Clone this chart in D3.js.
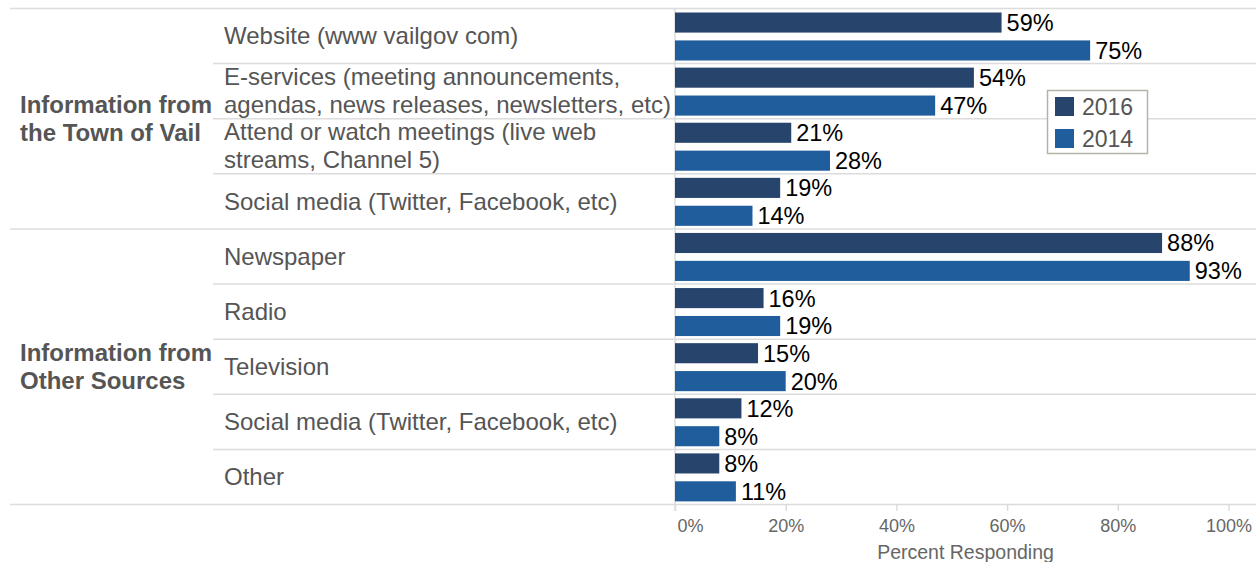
<!DOCTYPE html>
<html>
<head>
<meta charset="utf-8">
<script src="https://cdn.jsdelivr.net/npm/d3@7"></script>
<style>
  html, body { margin: 0; padding: 0; background: #fff; }
  svg { display: block; font-family: "Liberation Sans", Arial, sans-serif; }
</style>
</head>
<body>
<svg id="chart" width="1256" height="562"></svg>
<script>
// Survey: where residents get information about the Town of Vail
const groups = ["Information from\nthe Town of Vail", "Information from\nOther Sources"];
const categories = [
  "Website (www vailgov com)",
  "E-services (meeting announcements,\nagendas, news releases, newsletters, etc)",
  "Attend or watch meetings (live web\nstreams, Channel 5)",
  "Social media (Twitter, Facebook, etc)",
  "Newspaper",
  "Radio",
  "Television",
  "Social media (Twitter, Facebook, etc)",
  "Other"
];
const categoryGroup = [0, 0, 0, 0, 1, 1, 1, 1, 1];
const years = ["2016", "2014"];
const values2016 = [0.59, 0.54, 0.21, 0.19, 0.88, 0.16, 0.15, 0.12, 0.08];
const values2014 = [0.75, 0.47, 0.28, 0.14, 0.93, 0.19, 0.20, 0.08, 0.11];
const ticks = [0, 0.2, 0.4, 0.6, 0.8, 1.0];
const axisTitle = "Percent Responding";

const colors = { "2016": "#27446c", "2014": "#1f5d9d" };
const gridColor = "#dcdcdc";
const labelSize = "24px";

const svg = d3.select("#chart");
const W = 1256;
const plotTop = 8, plotBottom = 504;
const x0 = 675, x1 = 1228.5;
const labelX = 224, groupX = 20, rowLineX = 213, groupLineX = 10;

const x = d3.scaleLinear().domain([0, 1]).range([x0, x1]);
const rows = categories.map((c, i) => i);
const y = d3.scaleBand().domain(rows).range([plotTop, plotBottom]).padding(0);
const ySub = d3.scaleBand().domain(years).range([4.5, 52.5]).paddingInner(0.28).paddingOuter(0);

const series = { "2016": values2016, "2014": values2014 };

// Row separators
const g = svg.append("g");
rows.forEach(i => {
  if (i === 0) return;
  const isGroupStart = categoryGroup[i] !== categoryGroup[i - 1];
  g.append("line")
    .attr("x1", isGroupStart ? groupLineX : rowLineX).attr("x2", W)
    .attr("y1", y(i) + 0.5).attr("y2", y(i) + 0.5)
    .attr("stroke", gridColor).attr("stroke-width", 1.5);
});
// Top and bottom borders
[plotTop, plotBottom].forEach(v => {
  g.append("line")
    .attr("x1", groupLineX).attr("x2", W)
    .attr("y1", v + 0.5).attr("y2", v + 0.5)
    .attr("stroke", gridColor).attr("stroke-width", 1.5);
});

// Bottom axis
const axis = d3.axisBottom(x).tickValues(ticks).tickFormat(d3.format(".0%")).tickSize(7).tickPadding(8);
const axG = svg.append("g").attr("transform", `translate(0,${plotBottom})`).call(axis);
axG.select(".domain").remove();
axG.selectAll(".tick line").attr("stroke", gridColor).attr("stroke-width", 1.5);
axG.selectAll(".tick text")
  .attr("fill", "#666").style("font-size", "18px")
  .style("font-family", "'Liberation Sans', Arial, sans-serif");
axG.selectAll(".tick text").filter(d => d === 0).attr("text-anchor", "start").attr("dx", 2);

// Zero line
svg.append("line")
  .attr("x1", x(0)).attr("x2", x(0))
  .attr("y1", plotTop).attr("y2", plotBottom + 7)
  .attr("stroke", gridColor).attr("stroke-width", 1.5);

svg.append("text")
  .attr("x", (x0 + W) / 2).attr("y", 559)
  .attr("text-anchor", "middle").attr("fill", "#666")
  .style("font-size", "19.5px").text(axisTitle);

// Bars
const barsG = svg.append("g");
years.forEach(yr => {
  barsG.selectAll(null)
    .data(rows)
    .join("rect")
    .attr("x", x(0))
    .attr("y", i => y(i) + ySub(yr))
    .attr("width", i => x(series[yr][i]) - x(0))
    .attr("height", ySub.bandwidth())
    .attr("fill", colors[yr]);
  barsG.selectAll(null)
    .data(rows)
    .join("text")
    .attr("x", i => x(series[yr][i]) + 5)
    .attr("y", i => y(i) + ySub(yr) + ySub.bandwidth() / 2)
    .attr("dy", "0.36em")
    .attr("fill", "#000")
    .style("font-size", "23.5px")
    .text(i => d3.format(".0%")(series[yr][i]));
});

// Category labels
const catG = svg.append("g");
rows.forEach(i => {
  const lines = categories[i].split("\n");
  const lh = 28;
  const cy = y(i) + y.bandwidth() / 2;
  const t = catG.append("text")
    .attr("x", labelX)
    .attr("fill", "#555")
    .style("font-size", labelSize);
  lines.forEach((ln, k) => {
    t.append("tspan")
      .attr("x", labelX)
      .attr("y", cy + (k - (lines.length - 1) / 2) * lh)
      .attr("dy", "0.36em")
      .text(ln);
  });
});

// Group labels
groups.forEach((gName, gi) => {
  const idx = rows.filter(i => categoryGroup[i] === gi);
  const cy = (y(idx[0]) + y(idx[idx.length - 1]) + y.bandwidth()) / 2;
  const lines = gName.split("\n");
  const t = svg.append("text")
    .attr("fill", "#555")
    .style("font-size", labelSize).style("font-weight", "bold");
  lines.forEach((ln, k) => {
    t.append("tspan")
      .attr("x", groupX)
      .attr("y", cy + (k - (lines.length - 1) / 2) * 28)
      .attr("dy", "0.36em")
      .text(ln);
  });
});

// Legend
const lg = svg.append("g").attr("transform", "translate(1047,90)");
lg.append("rect").attr("x", 0.5).attr("y", 0.5).attr("width", 100).attr("height", 63)
  .attr("fill", "#fff").attr("stroke", "#b5b2a6").attr("stroke-width", 1.5);
years.forEach((yr, k) => {
  lg.append("rect").attr("x", 8).attr("y", 7 + k * 32).attr("width", 19).attr("height", 19)
    .attr("fill", colors[yr]);
  lg.append("text").attr("x", 35).attr("y", 16.5 + k * 32).attr("dy", "0.36em")
    .attr("fill", "#555").style("font-size", "23px").text(yr);
});
</script>
</body>
</html>
